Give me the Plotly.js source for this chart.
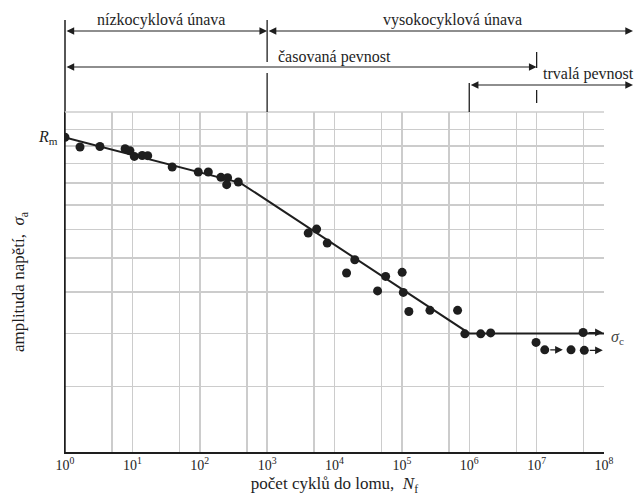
<!DOCTYPE html>
<html>
<head>
<meta charset="utf-8">
<script src="https://cdn.plot.ly/plotly-3.0.1.min.js"></script>
<style>
  html, body { margin: 0; padding: 0; background: #ffffff; }
  #chart { width: 635px; height: 500px; }
</style>
</head>
<body>
<div id="chart"></div>
<script>
// ---- data ----
const cycles = [1, 1.67, 3.3, 7.8, 9.2, 10.7, 14, 16.9, 39, 95, 134, 206, 259, 251, 373,
                4070, 5430, 7800, 20000, 15100, 43600, 57400, 101000, 105000, 127000, 261000, 671000,
                860000, 1480000, 2080000, 9800000, 32400000];
const amplitude = [1152, 1093, 1096, 1083, 1071, 1039, 1044, 1043, 981, 955, 955, 928, 926, 892, 905,
                   687, 702, 651, 595, 554, 503, 544, 556, 499, 450, 453, 453,
                   399, 399, 401, 381, 366];
const runoutCycles = [13200000, 51000000, 49000000];
const runoutAmplitude = [366, 365, 402];
const runoutEnd = [24500000, 96000000, 96000000];
const curveCycles = [1, 400, 1000000, 100000000];
const curveAmplitude = [1150, 901, 400, 400];
const Rm = 1150;
const sigmaC = 400;
const decadeTicks = [1, 10, 100, 1000, 10000, 100000, 1000000, 10000000, 100000000];
const decadeLabels = ['10<sup>0</sup>', '10<sup>1</sup>', '10<sup>2</sup>', '10<sup>3</sup>', '10<sup>4</sup>',
                      '10<sup>5</sup>', '10<sup>6</sup>', '10<sup>7</sup>', '10<sup>8</sup>'];
const halfDecadeTicks = [5, 50, 500, 5000, 50000, 500000, 5000000, 50000000];
const stressGrid = [300, 400, 500, 600, 700, 800, 900, 1000, 1100, 1200];
const regimeLabels = ['nízkocyklová únava', 'vysokocyklová únava', 'časovaná pevnost', 'trvalá pevnost'];

// ---- layout geometry ----
const W = 635, H = 500;
const M = {l: 65, r: 31, t: 112, b: 48};
const plotW = W - M.l - M.r;   // 539
const plotH = H - M.t - M.b;   // 340
const nDec = 8;
const xp = d => d / nDec;                    // decade -> paper x
const yp = px => (H - M.b - px) / plotH;     // page pixel -> paper y
const xpPx = px => (px - M.l) / plotW;       // page pixel -> paper x

const serif = 'Liberation Serif, DejaVu Serif, serif';
const ink = '#1e1e1e';
const gridCol = '#cccccc';

const traces = [
  {
    x: curveCycles, y: curveAmplitude, type: 'scatter', mode: 'lines',
    line: {color: ink, width: 2}, hoverinfo: 'skip', showlegend: false
  },
  {
    x: cycles.concat(runoutCycles), y: amplitude.concat(runoutAmplitude),
    type: 'scatter', mode: 'markers',
    marker: {color: ink, size: 9}, showlegend: false
  }
];

const shapes = [];
const line = (x0, y0, x1, y1, color, width) =>
  shapes.push({type: 'line', xref: 'paper', yref: 'paper', x0, y0, x1, y1,
               line: {color: color || ink, width: width || 1.3}});
// extended left axis
line(0, 0, 0, yp(20), ink, 1.5);
// top border of grid
line(0, 1, 1, 1, gridCol, 1.5);
// dividers in the regime band
line(xp(3), yp(20), xp(3), yp(62));
line(xp(3), yp(73), xp(3), 1);
line(xp(6), yp(83), xp(6), 1);
line(xp(7), yp(52), xp(7), yp(68));
line(xp(7), yp(90), xp(7), yp(103));

const annotations = [];
const arrow = (x0, x1, y) => annotations.push({
  xref: 'paper', yref: 'paper', x: x1, y: y, ax: -(x1 - x0) * plotW, ay: 0,
  axref: 'pixel', ayref: 'pixel', text: '', showarrow: true,
  arrowhead: 2, arrowsize: 1.4, arrowwidth: 1.1, arrowcolor: ink, arrowside: 'end+start'
});
const rightEdge = xpPx(633);
arrow(0, xp(3), yp(31));
arrow(xp(3), rightEdge, yp(31));
arrow(0, xp(7), yp(67));
arrow(xp(6), rightEdge, yp(85));

const label = (text, x, y, xanchor) => annotations.push({
  xref: 'paper', yref: 'paper', x, y, xanchor: xanchor || 'center', yanchor: 'middle',
  text, showarrow: false, font: {family: serif, size: 16, color: ink}
});
label(regimeLabels[0], xpPx(161), yp(20));
label(regimeLabels[1], xpPx(452), yp(20));
label(regimeLabels[2], xpPx(276), yp(57), 'left');
label(regimeLabels[3], xpPx(541), yp(74), 'left');

// Rm and sigma_c labels
annotations.push({
  xref: 'paper', yref: 'y', x: 0, y: Math.log10(Rm), xanchor: 'right', yanchor: 'middle',
  xshift: -5, text: '<i>R</i><sub>m</sub>', showarrow: false,
  font: {family: serif, size: 16, color: ink}
});
annotations.push({
  xref: 'paper', yref: 'y', x: 1, y: Math.log10(sigmaC), xanchor: 'left', yanchor: 'middle',
  xshift: 5, yshift: -4, text: '<i>σ</i><sub>c</sub>', showarrow: false,
  font: {family: serif, size: 16, color: '#444'}
});

// run-out arrows (specimens that did not fail)
runoutCycles.forEach((n, i) => annotations.push({
  xref: 'x', yref: 'y', axref: 'x', ayref: 'y',
  x: Math.log10(runoutEnd[i]), y: Math.log10(runoutAmplitude[i]),
  ax: Math.log10(n), ay: Math.log10(runoutAmplitude[i]),
  text: '', showarrow: true, arrowhead: 2, arrowsize: 1.4, arrowwidth: 1.1,
  arrowcolor: ink, startstandoff: 4
}));

const layout = {
  width: W, height: H,
  margin: M,
  paper_bgcolor: '#ffffff', plot_bgcolor: '#ffffff',
  showlegend: false,
  font: {family: serif, size: 14, color: ink},
  xaxis: {
    type: 'log', range: [0, nDec], automargin: false,
    tickmode: 'array', tickvals: decadeTicks, ticktext: decadeLabels,
    ticks: '', showgrid: true, gridcolor: gridCol, gridwidth: 1.5,
    minor: {tickmode: 'array', tickvals: halfDecadeTicks, ticks: '', showgrid: true,
            gridcolor: gridCol, gridwidth: 1.5},
    showline: true, linecolor: ink, linewidth: 1.5, zeroline: false,
    tickfont: {family: serif, size: 14, color: ink},
    title: {text: 'počet cyklů do lomu,  <i>N</i><sub>f</sub>', standoff: 5,
            font: {family: serif, size: 17, color: ink}}
  },
  yaxis: {
    type: 'log', range: [Math.log10(211), Math.log10(1320)], automargin: false,
    tickmode: 'array', tickvals: stressGrid, showticklabels: false,
    ticks: '', showgrid: true, gridcolor: gridCol, gridwidth: 1.5,
    showline: true, linecolor: ink, linewidth: 1.5, zeroline: false,
    title: {text: 'amplituda napětí,  <i>σ</i><sub>a</sub>', standoff: 34,
            font: {family: serif, size: 17, color: ink}}
  },
  shapes, annotations
};

Plotly.newPlot('chart', traces, layout, {staticPlot: true, displayModeBar: false});
</script>
</body>
</html>
